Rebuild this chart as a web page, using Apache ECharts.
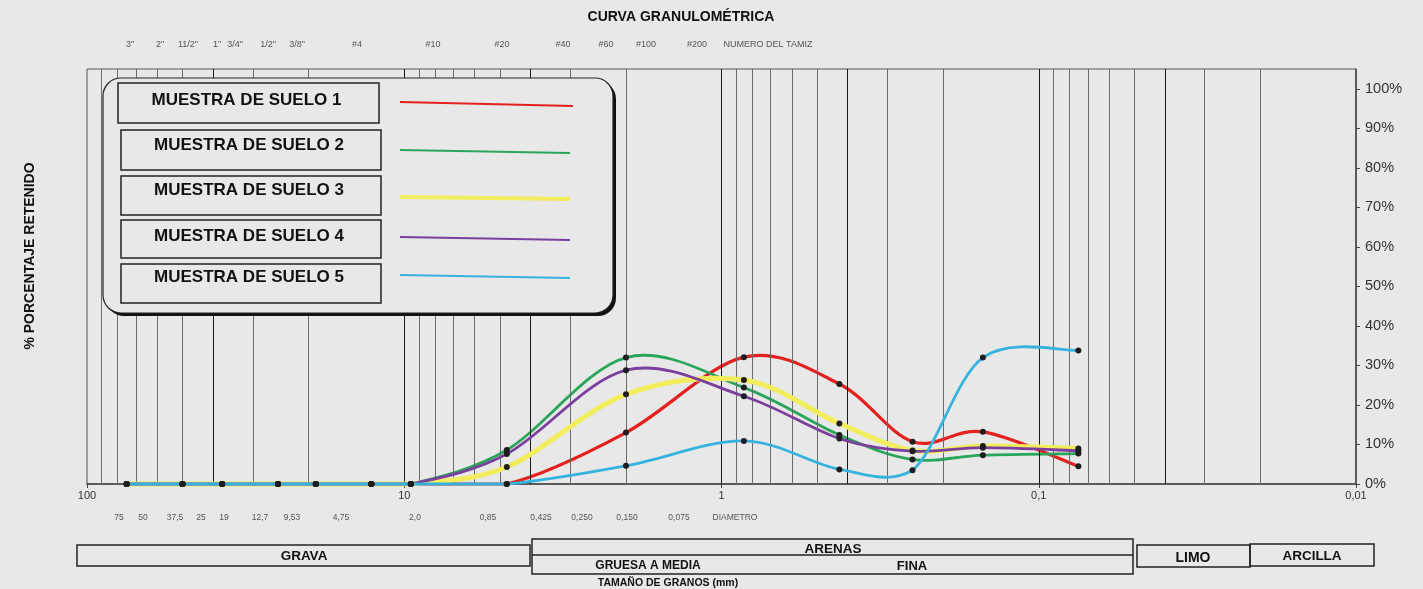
<!DOCTYPE html>
<html>
<head>
<meta charset="utf-8">
<script src="https://cdn.jsdelivr.net/npm/echarts@6/dist/echarts.min.js"></script>
<style>
html,body{margin:0;padding:0;background:#e8e8e8;}
#c{width:1423px;height:589px;}
</style>
</head>
<body>
<div id="c"></div>
<script>
// ---- data ----
const sizes = [75, 50, 37.5, 25, 19, 12.7, 9.53, 4.75, 2.0, 0.85, 0.425, 0.25, 0.15, 0.075];
const suelo1 = [0, 0, 0, 0, 0, 0, 0, 0, 13.0, 32.1, 25.3, 10.7, 13.2, 4.5];
const suelo2 = [0, 0, 0, 0, 0, 0, 0, 8.6, 32.0, 24.4, 12.4, 6.2, 7.3, 7.7];
const suelo3 = [0, 0, 0, 0, 0, 0, 0, 4.3, 22.7, 26.3, 15.3, 8.5, 9.6, 9.0];
const suelo4 = [0, 0, 0, 0, 0, 0, 0, 7.6, 28.8, 22.2, 11.5, 8.3, 9.2, 8.4];
const suelo5 = [0, 0, 0, 0, 0, 0, 0, 0, 4.6, 10.9, 3.7, 3.5, 32.0, 33.8];
const seriesNames = ['MUESTRA DE SUELO 1', 'MUESTRA DE SUELO 2', 'MUESTRA DE SUELO 3', 'MUESTRA DE SUELO 4', 'MUESTRA DE SUELO 5'];
const sieveNames = ['3"', '2"', '11/2"', '1"', '3/4"', '1/2"', '3/8"', '#4', '#10', '#20', '#40', '#60', '#100', '#200', 'NUMERO DEL TAMIZ'];
const diameterLabels = ['75', '50', '37,5', '25', '19', '12,7', '9,53', '4,75', '2,0', '0,85', '0,425', '0,250', '0,150', '0,075', 'DIAMETRO'];
const yTicks = [0, 10, 20, 30, 40, 50, 60, 70, 80, 90, 100];
const gridDark = [40, 10, 4, 1, 0.4, 0.1, 0.04];
const gridLight = [90, 80, 70, 60, 50, 30, 20, 9, 8, 7, 6, 5, 3, 2, 0.9, 0.8, 0.7, 0.6, 0.5, 0.3, 0.2, 0.09, 0.08, 0.07, 0.06, 0.05, 0.03, 0.02];

// ---- layout / style ----
const sieveNameX = [130, 160, 188, 217, 235, 268, 297, 357, 433, 502, 563, 606, 646, 697, 768];
const diameterLabelX = [119, 143, 175, 201, 224, 260, 292, 341, 415, 488, 541, 582, 627, 679, 735];
const colors = ['#e3211f', '#2aa65a', '#f2ed5c', '#7b3f9d', '#35b3de'];
const widths = [3.2, 2.8, 5, 2.8, 2.8];
const FONT = '"Liberation Sans", Arial, sans-serif';
const BG = '#e8e8e8';

const allData = [suelo1, suelo2, suelo3, suelo4, suelo5];

// Excel-like spline (Catmull-Rom) through the points, mapped with the axes' scales
function makeRenderer(pairs, color, width) {
  return function (params, api) {
    if (params.dataIndex !== 0) return;
    const p = pairs.map(d => api.coord(d));
    const yBase = api.coord([1, 0])[1];
    const clampY = y => Math.min(y, yBase);
    let d = 'M' + p[0][0] + ' ' + p[0][1];
    for (let i = 0; i < p.length - 1; i++) {
      const p0 = p[i - 1] || p[i], p1 = p[i], p2 = p[i + 1], p3 = p[i + 2] || p[i + 1];
      const c1x = p1[0] + (p2[0] - p0[0]) / 6, c1y = clampY(p1[1] + (p2[1] - p0[1]) / 6);
      const c2x = p2[0] - (p3[0] - p1[0]) / 6, c2y = clampY(p2[1] - (p3[1] - p1[1]) / 6);
      d += ' C' + c1x + ' ' + c1y + ' ' + c2x + ' ' + c2y + ' ' + p2[0] + ' ' + p2[1];
    }
    return { type: 'path', shape: { pathData: d }, style: { fill: 'none', stroke: color, lineWidth: width, lineJoin: 'round', lineCap: 'round' } };
  };
}

const series = [{
  type: 'line',
  data: [[100, 0]],
  showSymbol: false,
  lineStyle: { opacity: 0 },
  silent: true,
  z: 1,
  markLine: {
    silent: true,
    symbol: ['none', 'none'],
    label: { show: false },
    animation: false,
    data: gridLight.map(v => ({ xAxis: v, lineStyle: { color: '#6a6a6a', width: 1, type: 'solid' } }))
      .concat(gridDark.map(v => ({ xAxis: v, lineStyle: { color: '#1a1a1a', width: 1, type: 'solid' } })))
  }
}];
allData.forEach((arr, i) => {
  const pairs = sizes.map((s, k) => [s, arr[k]]);
  series.push({
    name: seriesNames[i] + ' curva',
    type: 'custom',
    z: 3 + i,
    silent: true,
    data: pairs,
    renderItem: makeRenderer(pairs, colors[i], widths[i])
  });
});
allData.forEach((arr, i) => {
  series.push({
    name: seriesNames[i],
    type: 'line',
    z: 10,
    data: sizes.map((s, k) => [s, arr[k]]),
    symbol: 'circle',
    symbolSize: 6,
    showSymbol: true,
    lineStyle: { opacity: 0, width: 0 },
    itemStyle: { color: '#1e1e1e', borderWidth: 0 }
  });
});

const graphic = [];
graphic.push({ type: 'text', x: 681, y: 17, z: 100, style: { text: 'CURVA GRANULOMÉTRICA', font: 'bold 14px ' + FONT, fill: '#111', textAlign: 'center', textVerticalAlign: 'middle' } });
graphic.push({ type: 'text', x: 30, y: 256, rotation: Math.PI / 2, z: 100, style: { text: '% PORCENTAJE RETENIDO', font: 'bold 14px ' + FONT, fill: '#111', textAlign: 'center', textVerticalAlign: 'middle' } });
sieveNames.forEach((t, i) => {
  graphic.push({ type: 'text', x: sieveNameX[i], y: 45, z: 100, style: { text: t, font: '9px ' + FONT, fill: '#555', textAlign: 'center', textVerticalAlign: 'middle' } });
});
diameterLabels.forEach((t, i) => {
  graphic.push({ type: 'text', x: diameterLabelX[i], y: 518, z: 100, style: { text: t, font: '8.5px ' + FONT, fill: '#555', textAlign: 'center', textVerticalAlign: 'middle' } });
});

// legend box
graphic.push({ type: 'rect', z: 100, shape: { x: 106, y: 81, width: 510, height: 235, r: 18 }, style: { fill: '#111' } });
graphic.push({ type: 'rect', z: 101, shape: { x: 103, y: 78, width: 510, height: 235, r: 18 }, style: { fill: BG, stroke: '#222', lineWidth: 1.2 } });
const legendBoxes = [[118, 83, 261, 40], [121, 130, 260, 40], [121, 176, 260, 39], [121, 220, 260, 38], [121, 264, 260, 39]];
const legendTextY = [100, 145, 190, 236, 277];
const legendLines = [[400, 102, 573, 106], [400, 150, 570, 153], [400, 197, 570, 199], [400, 237, 570, 240], [400, 275, 570, 278]];
seriesNames.forEach((n, i) => {
  const b = legendBoxes[i];
  graphic.push({ type: 'rect', z: 102, shape: { x: b[0], y: b[1], width: b[2], height: b[3] }, style: { fill: 'none', stroke: '#222', lineWidth: 1.5 } });
  graphic.push({ type: 'text', z: 103, x: b[0] + b[2] / 2 - 2, y: legendTextY[i], style: { text: n, font: 'bold 17px ' + FONT, fill: '#111', textAlign: 'center', textVerticalAlign: 'middle' } });
  const l = legendLines[i];
  graphic.push({ type: 'line', z: 103, shape: { x1: l[0], y1: l[1], x2: l[2], y2: l[3] }, style: { stroke: colors[i], lineWidth: i === 2 ? 4 : 2 } });
});

// bottom classification boxes
function box(x, y, w, h) {
  graphic.push({ type: 'rect', z: 100, shape: { x: x, y: y, width: w, height: h }, style: { fill: 'none', stroke: '#222', lineWidth: 1.5 } });
}
function label(t, x, y, size) {
  graphic.push({ type: 'text', z: 101, x: x, y: y, style: { text: t, font: 'bold ' + size + 'px ' + FONT, fill: '#111', textAlign: 'center', textVerticalAlign: 'middle' } });
}
box(77, 545, 453, 21); label('GRAVA', 304, 556, 13.5);
box(532, 539, 601, 35);
graphic.push({ type: 'line', z: 100, shape: { x1: 532, y1: 555, x2: 1133, y2: 555 }, style: { stroke: '#222', lineWidth: 1.5 } });
label('ARENAS', 833, 549, 13.5); label('GRUESA A MEDIA', 648, 566, 12); label('FINA', 912, 566, 13);
box(1137, 545, 113, 22); label('LIMO', 1193, 558, 14);
box(1250, 544, 124, 22); label('ARCILLA', 1312, 556, 13.5);
label('TAMAÑO DE GRANOS (mm)', 668, 583, 10.5);

const chart = echarts.init(document.getElementById('c'), null, { renderer: 'canvas' });
chart.setOption({
  backgroundColor: BG,
  animation: false,
  grid: { left: 87, right: 67, top: 69, bottom: 105, show: true, borderColor: '#555', borderWidth: 1, backgroundColor: 'transparent' },
  xAxis: {
    type: 'log', logBase: 10, min: 0.01, max: 100, inverse: true,
    axisLine: { show: true, lineStyle: { color: '#444', width: 1.5 } },
    axisTick: { show: true, length: 4, lineStyle: { color: '#444' } },
    axisLabel: { color: '#333', fontSize: 11, fontFamily: FONT, margin: 6,
      formatter: v => String(Number(v.toPrecision(3))).replace('.', ',') },
    splitLine: { show: false }
  },
  yAxis: {
    type: 'value', position: 'right', min: 0, max: 105, interval: 10,
    axisLine: { show: true, lineStyle: { color: '#444', width: 1.5 } },
    axisTick: { show: true, length: 4, lineStyle: { color: '#444' }, customValues: yTicks },
    axisLabel: { color: '#333', fontSize: 14.5, fontFamily: FONT, margin: 9, customValues: yTicks,
      formatter: v => v > 100 ? '' : v + '%' },
    splitLine: { show: false }
  },
  series: series,
  graphic: graphic
});
</script>
</body>
</html>
